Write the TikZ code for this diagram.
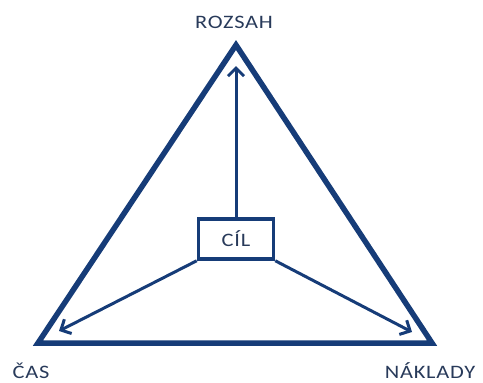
\documentclass[tikz,border=0pt]{standalone}
\usepackage{fontspec}
\setmainfont{Carlito}[FakeStretch=1.18,LetterSpace=4]
\usetikzlibrary{arrows.meta}
\definecolor{lineblue}{RGB}{22,60,120}
\definecolor{textblue}{RGB}{40,58,90}
\begin{document}
\begin{tikzpicture}[x=1pt,y=-1pt,
  lbl/.style={text=textblue,font=\fontsize{19}{19}\selectfont,anchor=base,inner sep=0pt},
  tri/.style={draw=lineblue,line width=5.5pt,line join=miter},
  arr/.style={draw=lineblue,line width=3pt,-{Straight Barb[length=8pt,width=16pt,line width=3pt]}},
  goal/.style={draw=lineblue,line width=3.5pt,fill=white,minimum width=75pt,minimum height=40pt,inner sep=0pt,text=textblue,font=\fontsize{19}{19}\selectfont}]
\useasboundingbox (0,0) rectangle (483,383);
\coordinate (top) at (236,45);
\coordinate (bl) at (38,343);
\coordinate (br) at (432,343);
\draw[tri] (top) -- (bl) -- (br) -- cycle;
\node[goal] (cil) at (236,239) {CÍL};
\coordinate (ttop) at (236,66);
\coordinate (tl) at (59,331);
\coordinate (tr) at (412,332);
\draw[arr] (cil.north) -- (ttop);
\draw[arr] (cil.south west) -- (tl);
\draw[arr] (cil.south east) -- (tr);
\node[lbl] (rozsah) at (234,28) {ROZSAH};
\node[lbl] (cas) at (31,378) {ČAS};
\node[lbl] (naklady) at (430,378) {NÁKLADY};
\end{tikzpicture}
\end{document}
